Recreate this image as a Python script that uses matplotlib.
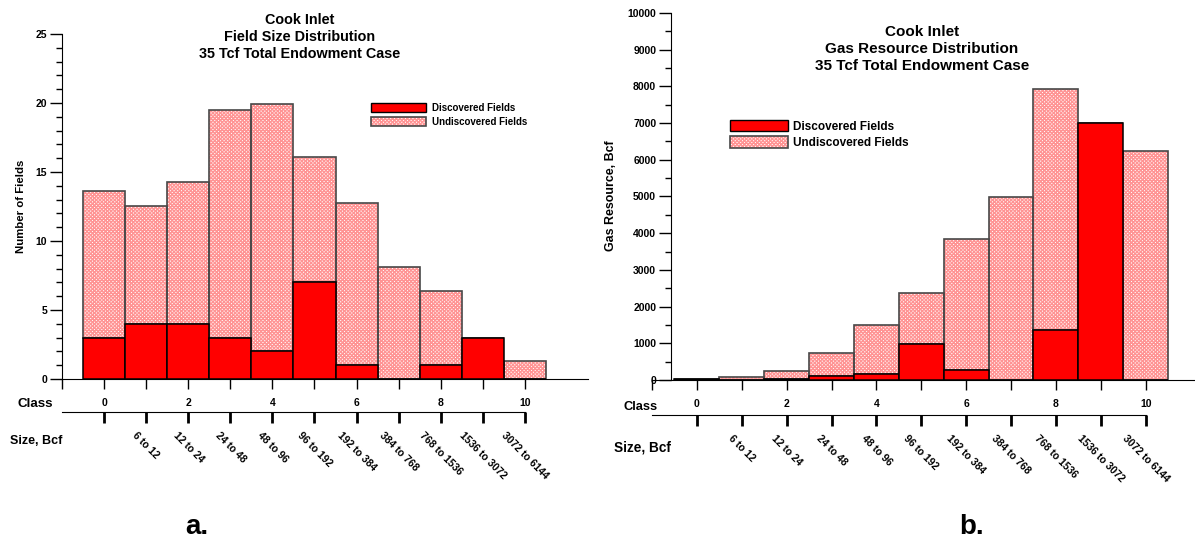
import numpy as np
import matplotlib
matplotlib.use('Agg')
import matplotlib.pyplot as plt
from matplotlib.patches import Patch
from matplotlib.ticker import MultipleLocator

plt.rcParams['font.family'] = ['Liberation Sans', 'DejaVu Sans']
plt.rcParams['font.weight'] = 'bold'
plt.rcParams['hatch.color'] = '#ff9494'
plt.rcParams['hatch.linewidth'] = 1.0

# data
classes = np.arange(11)
size_labels = ['6 to 12', '12 to 24', '24 to 48', '48 to 96', '96 to 192',
               '192 to 384', '384 to 768', '768 to 1536', '1536 to 3072',
               '3072 to 6144']
count_discovered = [3, 4, 4, 3, 2, 7, 1, 0, 1, 3, 0]
count_undiscovered = [10.65, 8.5, 10.3, 16.5, 17.95, 9.1, 11.75, 8.15, 5.4, 0, 1.3]
gas_discovered = [30, 0, 25, 115, 150, 985, 275, 0, 1355, 6990, 0]
gas_undiscovered = [0, 80, 220, 625, 1360, 1380, 3580, 4975, 6585, 0, 6240]

RED = '#ff0000'
EDGE = '#484848'
HATCH = 'xxxxxxxxx'
W, H = 1195, 542

fig = plt.figure(figsize=(W / 100, H / 100), dpi=100)


def px(x, y):
    return x / W, 1 - y / H


def draw(ax, disc, undisc, ymax, ymajor, yminor, sec_loc):
    ax.bar(classes, disc, width=1, color=RED, edgecolor='black', linewidth=1.1, zorder=3)
    ax.bar(classes, undisc, bottom=disc, width=1, color='white', hatch=HATCH,
           linewidth=0, zorder=2)
    ax.bar(classes, undisc, bottom=disc, width=1, fill=False, edgecolor=EDGE,
           linewidth=1.2, zorder=2.5)
    ax.set_ylim(0, ymax)
    ax.yaxis.set_major_locator(MultipleLocator(ymajor))
    ax.yaxis.set_minor_locator(MultipleLocator(yminor))
    ax.set_xticks(classes[::2])
    ax.set_xticks([-1, 1, 3, 5, 7, 9], minor=True)
    for s in ['top', 'right']:
        ax.spines[s].set_visible(False)
    ax.tick_params(axis='y', which='major', length=8.6, width=1, labelsize=7.5, pad=2)
    ax.tick_params(axis='y', which='minor', length=4.3, width=1)
    ax.tick_params(axis='x', which='both', length=7, width=1, labelsize=7.5, pad=7)
    sec = ax.secondary_xaxis(sec_loc)
    sec.set_xticks(classes, [''] + size_labels)
    sec.spines['bottom'].set_bounds(-1, 10)
    sec.tick_params(length=8, width=2, pad=5, labelsize=7.5, labelrotation=-45)
    return ax


# a. field size distribution
ax1 = fig.add_axes([62 / W, 1 - 379 / H, 526 / W, 345 / H])
ax1.set_xlim(-1, 11.5)
draw(ax1, count_discovered, count_undiscovered, 25, 5, 1, -0.0957)

# b. gas resource distribution
ax2 = fig.add_axes([652 / W, 1 - 380 / H, 543 / W, 367 / H])
ax2.set_xlim(-1, 11.1)
draw(ax2, gas_discovered, gas_undiscovered, 10000, 1000, 500, -0.0954)
ax2.spines['left'].set_position(('data', -0.58))

# titles and labels
fig.text(*px(300, 37), 'Cook Inlet\nField Size Distribution\n35 Tcf Total Endowment Case',
         ha='center', va='center', fontsize=10.4, linespacing=1.28)
fig.text(*px(922, 49), 'Cook Inlet\nGas Resource Distribution\n35 Tcf Total Endowment Case',
         ha='center', va='center', fontsize=11, linespacing=1.25)
fig.text(*px(21, 206), 'Number of Fields', rotation=90, ha='center', va='center', fontsize=8.2)
fig.text(*px(611, 196), 'Gas Resource, Bcf', rotation=90, ha='center', va='center', fontsize=8.9)
fig.text(*px(18, 404), 'Class', ha='left', va='center', fontsize=9.6)
fig.text(*px(10, 441), 'Size, Bcf', ha='left', va='center', fontsize=9)
fig.text(*px(624, 407), 'Class', ha='left', va='center', fontsize=9.3)
fig.text(*px(614, 448), 'Size, Bcf', ha='left', va='center', fontsize=9.8)
fig.text(*px(197, 527), 'a.', ha='center', va='center', fontsize=20)
fig.text(*px(972, 527), 'b.', ha='center', va='center', fontsize=20)

# legends
h_disc = Patch(facecolor=RED, edgecolor='black', linewidth=1)
h_und = (Patch(facecolor='white', hatch=HATCH, linewidth=0),
         Patch(fill=False, edgecolor=EDGE, linewidth=1.2))
fs1 = 7
ax1.legend([h_disc, h_und], ['Discovered Fields', 'Undiscovered Fields'],
           loc='upper left', bbox_to_anchor=px(371, 103), bbox_transform=fig.transFigure,
           frameon=False, fontsize=fs1, borderpad=0, borderaxespad=0,
           handlelength=55 / (fs1 * 100 / 72), handleheight=10 / (fs1 * 100 / 72),
           handletextpad=0.6, labelspacing=0.4)
fs2 = 8.5
ax2.legend([h_disc, h_und], ['Discovered Fields', 'Undiscovered Fields'],
           loc='upper left', bbox_to_anchor=px(730, 120), bbox_transform=fig.transFigure,
           frameon=False, fontsize=fs2, borderpad=0, borderaxespad=0,
           handlelength=58 / (fs2 * 100 / 72), handleheight=13 / (fs2 * 100 / 72),
           handletextpad=0.45, labelspacing=0.3)

fig.savefig('out.png', dpi=100)
